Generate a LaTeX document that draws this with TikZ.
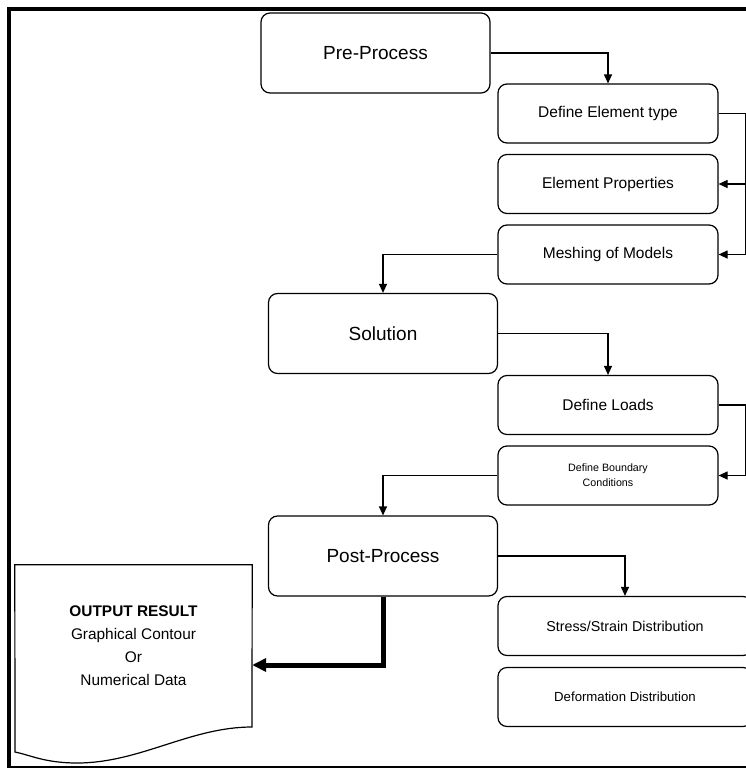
\documentclass[tikz,border=0pt]{standalone}
\usepackage{fontspec}
\setmainfont{Liberation Sans}
\usetikzlibrary{arrows.meta}

\begin{document}
\begin{tikzpicture}[x=1pt,y=-1pt,
    stage/.style={draw,line width=1.2pt,rounded corners=9pt,
      minimum width=229pt,minimum height=80pt,inner sep=0pt,
      font=\fontsize{19}{23}\selectfont},
    task/.style={draw,line width=1.2pt,rounded corners=9pt,
      minimum width=220pt,minimum height=59pt,inner sep=0pt,
      font=\fontsize{15.5}{19}\selectfont},
    link/.style={line width=1.2pt,-{Triangle[length=9pt,width=8pt]}},
    biglink/.style={line width=5pt,-{Triangle[length=14pt,width=13pt]}}]
  \clip (0,0) rectangle (746,768);
  % frame
  \draw[line width=4pt] (9,770) -- (9,9) -- (750,9);
  \draw[line width=1.2pt] (9,767) -- (750,767);

  % pre-process
  \node[stage] (pre) at (375.5,53) {Pre-Process};
  \node[task] (elemtype) at (608,113.5) {Define Element type};
  \node[task] (elemprop) at (608,184) {Element Properties};
  \node[task] (mesh) at (608,254.5) {Meshing of Models};

  % solution
  \node[stage] (sol) at (383,333.5) {Solution};
  \node[task] (loads) at (608,405) {Define Loads};
  \node[task,align=center,font=\fontsize{10.7}{15}\selectfont] (bound) at (608,475.5)
    {Define Boundary\\Conditions};

  % post-process
  \node[stage] (post) at (383,556) {Post-Process};
  \node[task,minimum width=254pt,font=\fontsize{14.3}{18}\selectfont] (stress) at (625,626)
    {Stress/Strain Distribution};
  \node[task,minimum width=254pt,font=\fontsize{13.2}{17}\selectfont] (deform) at (625,697)
    {Deformation Distribution};

  % output document
  \node[minimum width=237pt,minimum height=162pt,inner sep=0pt,align=center,
    font=\fontsize{15.4}{23}\selectfont] (output) at (133.5,646)
    {\textbf{OUTPUT RESULT}\\Graphical Contour\\Or\\Numerical Data};
  \draw[line width=1.2pt] (output.north west) -- (output.north east) -- (252,727)
    .. controls (190,727) and (140,763) .. (77,763)
    .. controls (45,763) and (30,755) .. (15,752) -- cycle;

  % connectors
  \draw[link] (pre.east) -| (elemtype.north);
  \draw[link] (elemtype.east) -- ++(27,0) |- (elemprop.east);
  \draw[link] (elemtype.east) -- ++(27,0) |- (mesh.east);
  \draw[link] (mesh.west) -| (sol.north);
  \draw[link] (sol.east) -| (loads.north);
  \draw[link] (loads.east) -- ++(27,0) |- (bound.east);
  \draw[link] (bound.west) -| (post.north);
  \draw[link] (post.east) -| (stress.north);
  \draw[biglink] (post.south) |- ([yshift=-19pt]output.east);
\end{tikzpicture}
\end{document}
